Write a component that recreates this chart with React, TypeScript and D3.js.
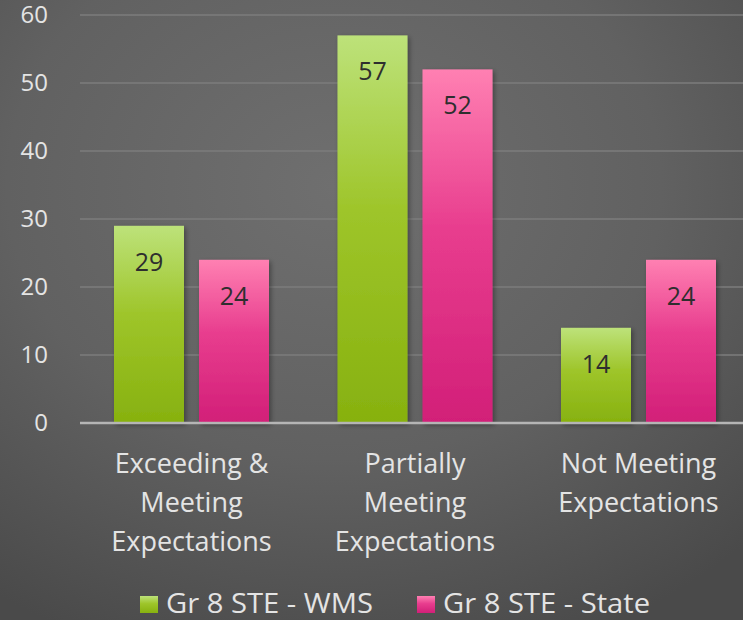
import React from "react";
import * as d3 from "d3";

const categories = [
  ["Exceeding &", "Meeting", "Expectations"],
  ["Partially", "Meeting", "Expectations"],
  ["Not Meeting", "Expectations"],
];
const seriesNames = ["Gr 8 STE - WMS", "Gr 8 STE - State"];
const wmsValues = [29, 57, 14];
const stateValues = [24, 52, 24];
const yTicks = [0, 10, 20, 30, 40, 50, 60];

const W = 743;
const H = 620;

export default function App() {
  const x0 = d3.scaleBand<number>().domain([0, 1, 2]).range([79.75, 750.25]).paddingInner(0).paddingOuter(0);
  const y = d3.scaleLinear().domain([0, 60]).range([423, 15]);
  const barW = 70;
  const gap = 15;
  const inner = barW * 2 + gap;
  const series = [wmsValues, stateValues];
  const fills = ["url(#gGreen)", "url(#gPink)"];
  const font = "'Open Sans', 'Lato', sans-serif";

  return (
    <svg width={W} height={H} style={{ position: "absolute", left: 0, top: 0 }}>
      <defs>
        <radialGradient id="bg" cx="45%" cy="30%" r="80%">
          <stop offset="0%" stopColor="#6f6f6f" />
          <stop offset="55%" stopColor="#616161" />
          <stop offset="100%" stopColor="#4a4a4a" />
        </radialGradient>
        <linearGradient id="gGreen" x1="0" y1="0" x2="0" y2="1">
          <stop offset="0%" stopColor="#bde27a" />
          <stop offset="45%" stopColor="#9ec52a" />
          <stop offset="100%" stopColor="#87b10f" />
        </linearGradient>
        <linearGradient id="gPink" x1="0" y1="0" x2="0" y2="1">
          <stop offset="0%" stopColor="#ff80b2" />
          <stop offset="45%" stopColor="#e83d8e" />
          <stop offset="100%" stopColor="#d21f78" />
        </linearGradient>
        <filter id="shadow" x="-20%" y="-20%" width="150%" height="150%">
          <feDropShadow dx="2" dy="2" stdDeviation="2.5" floodColor="#000" floodOpacity="0.35" />
        </filter>
      </defs>
      <rect x={0} y={0} width={W} height={H} fill="url(#bg)" />
      {yTicks.filter((t) => t > 0).map((t) => (
        <line key={t} x1={80} x2={W} y1={y(t)} y2={y(t)} stroke="#7c7c7c" strokeWidth={1.5} />
      ))}
      {yTicks.map((t) => (
        <text key={"l" + t} x={48} y={y(t) + 8} textAnchor="end" fill="#e4e4e4" fontSize={24} fontFamily={font}>
          {t}
        </text>
      ))}
      {categories.map((c, i) => {
        const start = (x0(i) as number) + (x0.bandwidth() - inner) / 2;
        return (
          <g key={i}>
            {series.map((vals, s) => {
              const bx = start + s * (barW + gap);
              const v = vals[i];
              return (
                <g key={s}>
                  <rect x={bx} y={y(v)} width={barW} height={y(0) - y(v)} fill={fills[s]} filter="url(#shadow)" />
                  <text x={bx + barW / 2} y={y(v) + 45} textAnchor="middle" fill="#2e2e2e" fontSize={25} fontFamily={font}>
                    {v}
                  </text>
                </g>
              );
            })}
          </g>
        );
      })}
      <line x1={80} x2={W} y1={y(0)} y2={y(0)} stroke="#b5b5b5" strokeWidth={2.5} />
      {categories.map((c, i) => {
        const cx = (x0(i) as number) + x0.bandwidth() / 2;
        return (
          <text key={"c" + i} x={cx} y={473} textAnchor="middle" fill="#e4e4e4" fontSize={27} fontFamily={font}>
            {c.map((line, k) => (
              <tspan key={k} x={cx} y={473 + k * 39}>
                {line}
              </tspan>
            ))}
          </text>
        );
      })}
      {seriesNames.map((n, s) => {
        const lx = s === 0 ? 140 : 417;
        return (
          <g key={n}>
            <rect x={lx} y={596} width={18} height={17} fill={fills[s]} />
            <text x={lx + 26} y={613} fill="#e4e4e4" fontSize={28} fontFamily={font}
              textLength={207} lengthAdjust="spacingAndGlyphs">
              {n}
            </text>
          </g>
        );
      })}
    </svg>
  );
}
